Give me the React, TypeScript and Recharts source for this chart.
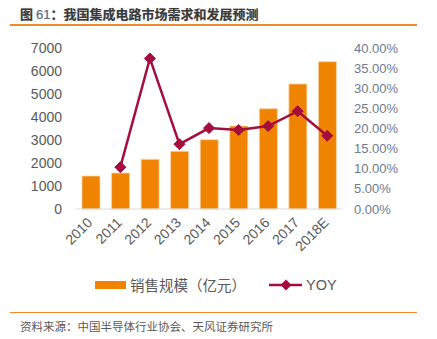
import React from "react";
import { ComposedChart, Bar, Line, XAxis, YAxis } from "recharts";

const categories = ["2010", "2011", "2012", "2013", "2014", "2015", "2016", "2017", "2018E"];
const salesValues = [1435, 1565, 2160, 2508, 3013, 3609, 4360, 5435, 6404];
const yoyValues: (number | null)[] = [null, 0.104, 0.374, 0.161, 0.201, 0.196, 0.206, 0.243, 0.182];
const leftTicks = [0, 1000, 2000, 3000, 4000, 5000, 6000, 7000];
const rightTicks = [0, 0.05, 0.1, 0.15, 0.2, 0.25, 0.3, 0.35, 0.4];

const data = categories.map((c, i) => ({ year: c, sales: salesValues[i], yoy: yoyValues[i] }));

const FONT = '"Liberation Sans", Arial, "Noto Sans CJK SC", sans-serif';
const CJK = '"Noto Sans CJK SC", "Liberation Sans", sans-serif';
const TEXT = "#595959";
const ORANGE = "#F08300";
const RED = "#A50D3E";

const XTick = (props: any) => {
  const { x, y, payload } = props;
  const ax = x - 1;
  const ay = y + 11;
  return (
    <text
      x={ax}
      y={ay}
      transform={`rotate(-45, ${ax}, ${ay})`}
      textAnchor="end"
      dy="0.35em"
      fontSize={14}
      fill={TEXT}
      fontFamily={FONT}
    >
      {payload.value}
    </text>
  );
};

const Diamond = (props: any) => {
  const { cx, cy, value } = props;
  if (value == null || cx == null || cy == null) return null;
  const r = 5.5;
  return (
    <path
      d={`M${cx},${cy - r}L${cx + r},${cy}L${cx},${cy + r}L${cx - r},${cy}Z`}
      fill={RED}
      stroke={RED}
      strokeWidth={1}
    />
  );
};

export default function App() {
  return (
    <div style={{ position: "absolute", left: 0, top: 0, width: 437, height: 339, background: "#fff", fontFamily: CJK }}>
      <div
        style={{
          position: "absolute",
          left: 20,
          top: 4,
          fontSize: 13,
          fontWeight: "bold",
          color: "#3a3a3a",
          whiteSpace: "nowrap",
          lineHeight: "19px",
          textShadow: "0 0 1px rgba(0,0,0,0.35)",
        }}
      >
        图 <span style={{ color: "#5b6f8e", fontFamily: FONT, fontWeight: "normal" }}>61</span>：我国集成电路市场需求和发展预测
      </div>
      <div style={{ position: "absolute", left: 10, top: 24, width: 407, height: 1.5, background: "#EE8A2E" }} />
      <ComposedChart
        width={437}
        height={339}
        data={data}
        margin={{ top: 48, right: 0, bottom: 0, left: 0 }}
        style={{ position: "absolute", left: 0, top: 0 }}
      >
        <XAxis
          dataKey="year"
          xAxisId="x"
          height={130}
          tickSize={0}
          tickMargin={0}
          tickLine={false}
          axisLine={{ stroke: "#D9D9D9", strokeWidth: 1 }}
          tick={<XTick />}
          interval={0}
        />
        <YAxis
          yAxisId="left"
          orientation="left"
          width={76}
          domain={[0, 7000]}
          ticks={leftTicks}
          interval={0}
          tickSize={0}
          tickMargin={14}
          axisLine={false}
          tickLine={false}
          tick={{ fontSize: 14, fill: TEXT, fontFamily: FONT }}
        />
        <YAxis
          yAxisId="right"
          orientation="right"
          width={95}
          domain={[0, 0.4]}
          ticks={rightTicks}
          interval={0}
          tickSize={0}
          tickMargin={12}
          axisLine={false}
          tickLine={false}
          tickFormatter={(v: number) => (v * 100).toFixed(2) + "%"}
          tick={{ fontSize: 13, fill: "#6d7a8c", fontFamily: FONT, textAnchor: "start" }}
        />
        <Bar
          xAxisId="x"
          yAxisId="left"
          dataKey="sales"
          fill={ORANGE}
          stroke="#F9D3A8"
          strokeWidth={0.8}
          barSize={18}
          isAnimationActive={false}
        />
        <Line
          xAxisId="x"
          yAxisId="right"
          dataKey="yoy"
          stroke={RED}
          strokeWidth={2.5}
          dot={<Diamond />}
          activeDot={false}
          connectNulls={false}
          isAnimationActive={false}
        />
      </ComposedChart>
      <div style={{ position: "absolute", left: 95, top: 281, width: 31, height: 8, background: ORANGE }} />
      <div
        style={{
          position: "absolute",
          left: 130,
          top: 275,
          fontSize: 14.5,
          lineHeight: "20px",
          color: TEXT,
          whiteSpace: "nowrap",
          fontFamily: CJK,
        }}
      >
        销售规模（亿元）
      </div>
      <svg style={{ position: "absolute", left: 266, top: 278 }} width={40} height={14}>
        <line x1={3} y1={7} x2={36} y2={7} stroke={RED} strokeWidth={2.5} />
        <path d="M20,1.5L25.5,7L20,12.5L14.5,7Z" fill={RED} />
      </svg>
      <div
        style={{
          position: "absolute",
          left: 306,
          top: 275,
          fontSize: 14.5,
          lineHeight: "20px",
          color: TEXT,
          whiteSpace: "nowrap",
          fontFamily: FONT,
        }}
      >
        YOY
      </div>
      <div style={{ position: "absolute", left: 10, top: 311.5, width: 407, height: 1.5, background: "#EE8A2E" }} />
      <div
        style={{
          position: "absolute",
          left: 20,
          top: 318,
          fontSize: 11.5,
          lineHeight: "16px",
          color: TEXT,
          whiteSpace: "nowrap",
          fontFamily: CJK,
        }}
      >
        资料来源：中国半导体行业协会、天风证券研究所
      </div>
    </div>
  );
}
